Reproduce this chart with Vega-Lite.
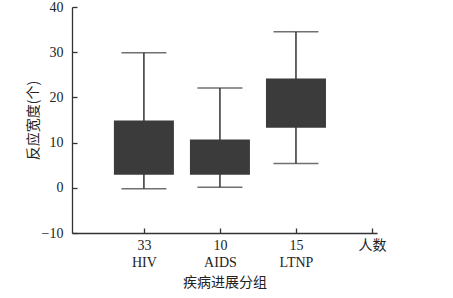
{
  "$schema": "https://vega.github.io/schema/vega-lite/v6.json",
  "autosize": "none",
  "width": 305,
  "height": 226,
  "padding": {"left": 72, "top": 7, "right": 76, "bottom": 65},
  "background": "white",
  "config": {
    "view": {"stroke": null},
    "axis": {"grid": false, "domainColor": "#333", "tickColor": "#333", "labelColor": "#222", "titleColor": "#222", "labelFont": "Liberation Serif, Noto Sans CJK SC", "titleFont": "Noto Sans CJK SC", "labelFontSize": 14, "titleFontSize": 14, "titleFontWeight": "normal", "domainWidth": 1.3, "tickWidth": 1.3}
  },
  "data": {
    "values": [
      {"group": "HIV", "pos": 1, "n": 33, "low": -0.2, "q1": 2.9, "q3": 14.9, "high": 29.9},
      {"group": "AIDS", "pos": 2, "n": 10, "low": 0.1, "q1": 2.9, "q3": 10.7, "high": 22.1},
      {"group": "LTNP", "pos": 3, "n": 15, "low": 5.4, "q1": 13.3, "q3": 24.2, "high": 34.5}
    ]
  },
  "encoding": {
    "x": {
      "field": "pos", "type": "quantitative",
      "scale": {"domain": [0.12, 4], "nice": false, "zero": false},
      "axis": {
        "values": [1, 2, 3, 4],
        "tickSize": -5,
        "labelPadding": 10,
        "labelLineHeight": 17,
        "labelExpr": "datum.value == 1 ? ['33', 'HIV'] : datum.value == 2 ? ['10', 'AIDS'] : datum.value == 3 ? ['15', 'LTNP'] : '人数'",
        "title": "疾病进展分组",
        "titlePadding": 6
      }
    }
  },
  "layer": [
    {
      "mark": {"type": "rule", "color": "#333", "strokeWidth": 1.5},
      "encoding": {
        "y": {"field": "low", "type": "quantitative", "scale": {"domain": [-10, 40], "nice": false},
          "axis": {"values": [-10, 0, 10, 20, 30, 40], "tickSize": -5, "labelPadding": 14, "title": "反应宽度(个)", "titlePadding": 1}},
        "y2": {"field": "high"}
      }
    },
    {
      "mark": {"type": "bar", "width": 60, "color": "#3b3b3b"},
      "encoding": {
        "y": {"field": "q1", "type": "quantitative"},
        "y2": {"field": "q3"}
      }
    },
    {
      "mark": {"type": "tick", "orient": "horizontal", "size": 45, "thickness": 1.5, "color": "#333"},
      "encoding": {"y": {"field": "high", "type": "quantitative"}}
    },
    {
      "mark": {"type": "tick", "orient": "horizontal", "size": 45, "thickness": 1.5, "color": "#333"},
      "encoding": {"y": {"field": "low", "type": "quantitative"}}
    }
  ]
}
